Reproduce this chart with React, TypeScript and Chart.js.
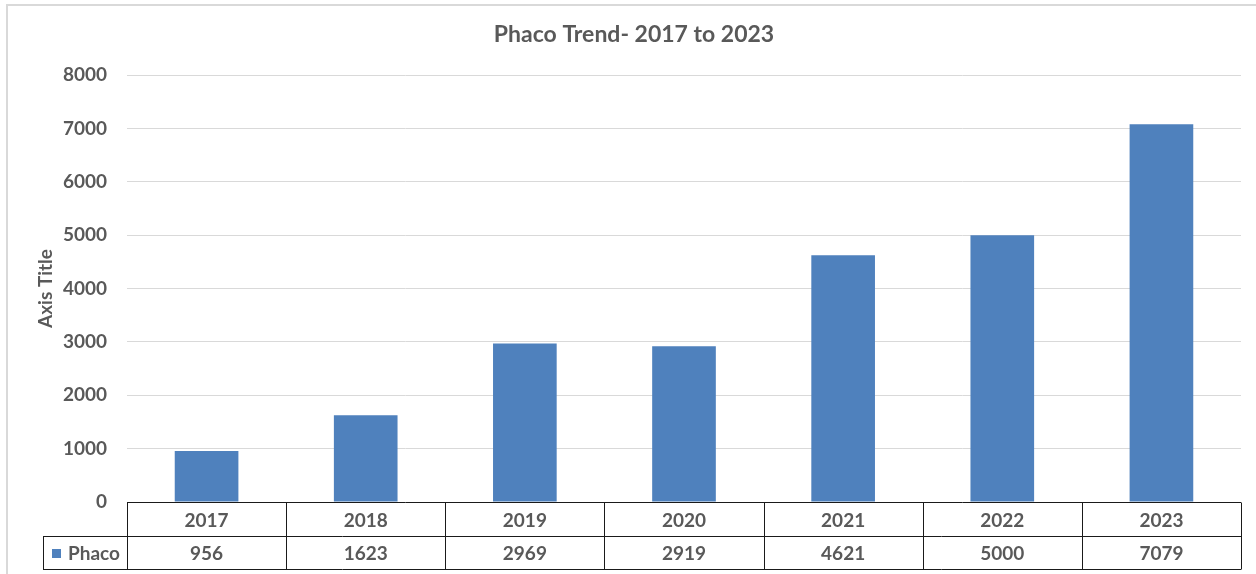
import React, { useEffect, useRef } from "react";
import { Chart, registerables } from "chart.js";

Chart.register(...registerables);

const years = ["2017", "2018", "2019", "2020", "2021", "2022", "2023"];
const phaco = [956, 1623, 2969, 2919, 4621, 5000, 7079];
const seriesName = "Phaco";
const chartTitle = "Phaco Trend- 2017 to 2023";
const yAxisTitle = "Axis Title";

const FONT = "Lato, 'Open Sans', sans-serif";
const TEXT = "#595959";
const BAR = "#4F81BD";

const tablePlugin = {
  id: "excelTable",
  beforeDraw(chart: any) {
    const { ctx } = chart;
    ctx.save();
    ctx.fillStyle = "#ffffff";
    ctx.fillRect(0, 0, chart.width, chart.height);
    ctx.strokeStyle = "#D9D9D9";
    ctx.lineWidth = 2;
    ctx.beginPath();
    ctx.moveTo(7, 574);
    ctx.lineTo(7, 5);
    ctx.lineTo(1256, 5);
    ctx.stroke();
    ctx.restore();
  },
  afterDraw(chart: any) {
    const { ctx, chartArea } = chart;
    const xs = chart.scales.x;
    const n = years.length;
    const top = chartArea.bottom;
    const rowH = 33.5;
    const bounds: number[] = [chartArea.left];
    for (let i = 0; i < n - 1; i++) {
      bounds.push((xs.getPixelForValue(i) + xs.getPixelForValue(i + 1)) / 2);
    }
    bounds.push(chartArea.right);
    const legendLeft = 43;
    ctx.save();
    // title
    ctx.fillStyle = TEXT;
    ctx.font = `bold 23px ${FONT}`;
    ctx.textAlign = "center";
    ctx.textBaseline = "middle";
    ctx.fillText(chartTitle, 634, 35);

    ctx.strokeStyle = "#1a1a1a";
    ctx.lineWidth = 1;
    const r0 = Math.round(top) + 0.5;
    const r1 = Math.round(top + rowH) + 0.5;
    const r2 = Math.round(top + rowH * 2) + 0.5;
    ctx.beginPath();
    ctx.moveTo(chartArea.left, r0);
    ctx.lineTo(chartArea.right, r0);
    ctx.moveTo(legendLeft, r1);
    ctx.lineTo(chartArea.right, r1);
    ctx.moveTo(legendLeft, r2);
    ctx.lineTo(chartArea.right, r2);
    ctx.moveTo(legendLeft + 0.5, r1);
    ctx.lineTo(legendLeft + 0.5, r2);
    bounds.forEach((b) => {
      const bx = Math.round(b) + 0.5;
      ctx.moveTo(bx, r0);
      ctx.lineTo(bx, r2);
    });
    ctx.stroke();

    ctx.font = `bold 19px ${FONT}`;
    ctx.fillStyle = TEXT;
    ctx.textAlign = "center";
    ctx.textBaseline = "middle";
    for (let i = 0; i < n; i++) {
      const cx = (bounds[i] + bounds[i + 1]) / 2;
      ctx.fillText(years[i], cx, (r0 + r1) / 2 + 1);
      ctx.fillText(String(phaco[i]), cx, (r1 + r2) / 2 + 1);
    }
    // legend key
    ctx.fillStyle = BAR;
    ctx.fillRect(52, (r1 + r2) / 2 - 4, 9, 9);
    ctx.fillStyle = TEXT;
    ctx.textAlign = "left";
    ctx.fillText(seriesName, 68, (r1 + r2) / 2 + 1);
    ctx.restore();
  },
};

export default function App() {
  const ref = useRef<HTMLCanvasElement | null>(null);
  useEffect(() => {
    if (!ref.current) return;
    const chart = new Chart(ref.current, {
      type: "bar",
      data: {
        labels: years,
        datasets: [
          {
            label: seriesName,
            data: phaco,
            backgroundColor: BAR,
            borderWidth: 0,
            categoryPercentage: 1,
            barPercentage: 0.4,
          },
        ],
      },
      options: {
        responsive: false,
        animation: false,
        devicePixelRatio: 1,
        layout: { padding: { top: 75, bottom: 72, left: 0, right: 15 } },
        plugins: {
          legend: { display: false },
          title: { display: false },
          tooltip: { enabled: false },
        },
        scales: {
          x: {
            display: false,
            offset: true,
            grid: { display: false },
          },
          y: {
            min: 0,
            max: 8000,
            afterFit(scale: any) {
              scale.width = 127;
            },
            ticks: {
              stepSize: 1000,
              color: TEXT,
              font: { family: FONT, size: 19, weight: "bold" },
              padding: 20,
              callback: (v: any) => String(v),
            },
            grid: { color: "#D9D9D9", drawTicks: false, tickLength: 0, lineWidth: 1 },
            border: { display: false },
            title: {
              display: true,
              text: yAxisTitle,
              color: TEXT,
              font: { family: FONT, size: 19, weight: "bold" },
              padding: { top: 34, bottom: 0 },
            },
          },
        },
      },
      plugins: [tablePlugin],
    });
    return () => chart.destroy();
  }, []);
  return (
    <canvas
      ref={ref}
      width={1256}
      height={574}
      style={{ position: "absolute", left: 0, top: 0, width: 1256, height: 574 }}
    />
  );
}
